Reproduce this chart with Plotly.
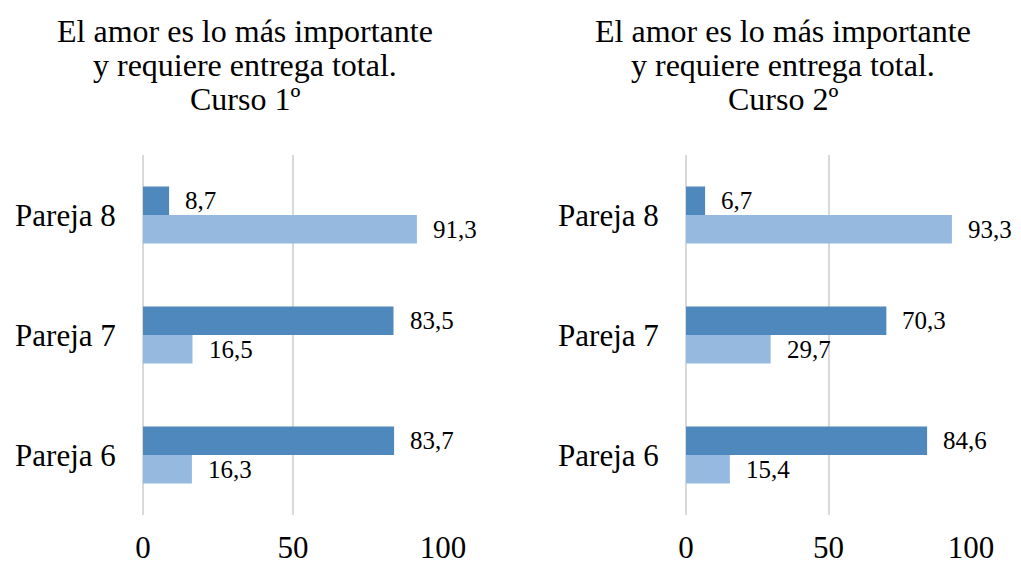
import plotly.graph_objects as go

# Categories (bottom to top)
parejas = ["Pareja 6", "Pareja 7", "Pareja 8"]

# Curso 1º
curso1_oscuro = [83.7, 83.5, 8.7]
curso1_claro = [16.3, 16.5, 91.3]

# Curso 2º
curso2_oscuro = [84.6, 70.3, 6.7]
curso2_claro = [15.4, 29.7, 93.3]

titulo_lineas = ["El amor es lo más importante", "y requiere entrega total."]
titulos_curso = ["Curso 1º", "Curso 2º"]
x_ticks = [0, 50, 100]

OSCURO = "#4F88BD"
CLARO = "#96B9E0"
GRID = "#D9D9D9"
FONT = "Times New Roman, Liberation Serif, serif"

W, H = 1021, 565

fig = go.Figure()

paneles = [
    ("x", "y", curso1_oscuro, curso1_claro),
    ("x2", "y2", curso2_oscuro, curso2_claro),
]

for xa, ya, oscuro, claro in paneles:
    # Light series first so it sits below the dark one in each group
    fig.add_trace(go.Bar(y=parejas, x=claro, orientation="h",
                         marker=dict(color=CLARO, line=dict(width=0)),
                         xaxis=xa, yaxis=ya, showlegend=False))
    fig.add_trace(go.Bar(y=parejas, x=oscuro, orientation="h",
                         marker=dict(color=OSCURO, line=dict(width=0)),
                         xaxis=xa, yaxis=ya, showlegend=False))

annotations = []

def fmt(v):
    return f"{v:.1f}".replace(".", ",")

for xa, ya, oscuro, claro in paneles:
    for cat, vo, vc in zip(parejas, oscuro, claro):
        annotations.append(dict(x=vo, y=cat, xref=xa, yref=ya, text=fmt(vo),
                                showarrow=False, xanchor="left", yanchor="middle",
                                xshift=14, yshift=14.5,
                                font=dict(family=FONT, size=25, color="#000")))
        annotations.append(dict(x=vc, y=cat, xref=xa, yref=ya, text=fmt(vc),
                                showarrow=False, xanchor="left", yanchor="middle",
                                xshift=14, yshift=-14.5,
                                font=dict(family=FONT, size=25, color="#000")))

# Panel titles, one annotation per line
centros = [245 / W, 783 / W]
baselines = [42, 76, 110]
for centro, curso in zip(centros, titulos_curso):
    lineas = titulo_lineas + [curso]
    for linea, base in zip(lineas, baselines):
        annotations.append(dict(x=centro, y=1 - (base - 11) / H, xref="paper", yref="paper",
                                text=linea, showarrow=False, xanchor="center",
                                yanchor="middle",
                                font=dict(family=FONT, size=32, color="#000")))

ydom = [(H - 515) / H, (H - 155) / H]

xaxis_common = dict(range=[0, 100], tickvals=x_ticks, showgrid=True, gridcolor=GRID,
                    gridwidth=2, zeroline=True, zerolinecolor=GRID, zerolinewidth=2,
                    showline=False, ticks="outside", ticklen=5,
                    tickcolor="rgba(0,0,0,0)", automargin=False,
                    tickfont=dict(family=FONT, size=31, color="#000"), fixedrange=True)
yaxis_common = dict(showgrid=False, zeroline=False, showline=False, ticks="outside",
                    ticklen=20, tickcolor="rgba(0,0,0,0)", automargin=False,
                    categoryorder="array", categoryarray=parejas,
                    tickfont=dict(family=FONT, size=31, color="#000"), domain=ydom)

fig.update_layout(
    width=W, height=H,
    margin=dict(l=0, r=0, t=0, b=0, autoexpand=False),
    paper_bgcolor="white", plot_bgcolor="white",
    barmode="group", bargap=0.525, bargroupgap=0,
    separators=",.",
    xaxis=dict(domain=[143 / W, 443 / W], anchor="y", **xaxis_common),
    yaxis=dict(anchor="x", **yaxis_common),
    xaxis2=dict(domain=[686 / W, 971 / W], anchor="y2", **xaxis_common),
    yaxis2=dict(anchor="x2", **yaxis_common),
    annotations=annotations,
)

fig.write_html("out.html")
